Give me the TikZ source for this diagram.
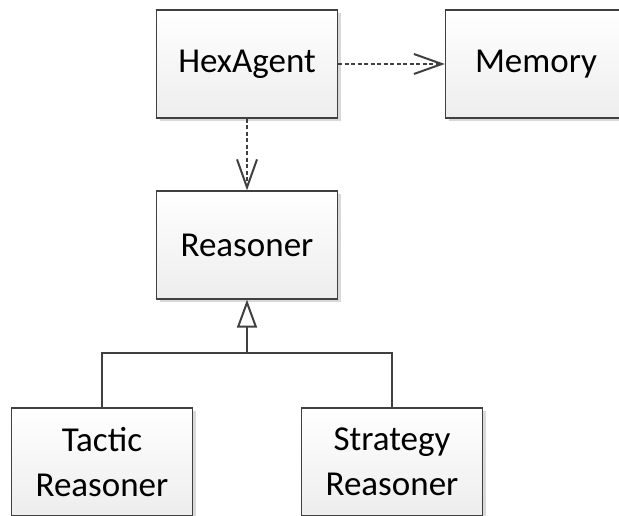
\documentclass[tikz,border=0pt]{standalone}
\usepackage{fontspec}
\setmainfont{Carlito}
\usetikzlibrary{arrows.meta,shadows}
\tikzset{
  cls/.style={draw=black!75,line width=1.3pt,top color=white,bottom color=black!7,
    minimum width=181pt,minimum height=108pt,align=center,
    font=\fontsize{35}{45}\selectfont,
    drop shadow={shadow xshift=3pt,shadow yshift=-3pt,fill=black!15,opacity=1}},
  dep/.style={draw=black!75,line width=2pt,dash pattern=on 4pt off 2.5pt,
    -{Straight Barb[length=28pt,width=20pt]}},
  inh/.style={draw=black!75,line width=2pt,-{Triangle[open,length=28pt,width=20pt]}},
}
\begin{document}
\begin{tikzpicture}[x=1pt,y=1pt]
	\useasboundingbox (0,0) rectangle (619,515);
	\clip (0,0) rectangle (619,515);
	% classes
	\node[cls] (hex) at (247,451) {HexAgent};
	\node[cls] (mem) at (536,451) {Memory};
	\node[cls] (rea) at (247,270) {Reasoner};
	\node[cls] (tac) at (102,53) {Tactic\\Reasoner};
	\node[cls] (str) at (392,53) {Strategy\\Reasoner};
	% dependencies
	\draw[dep] (hex) -- (mem);
	\draw[dep] (hex) -- (rea);
	% generalization
	\coordinate (bus) at (247,162);
	\draw[inh] (bus) -- (rea);
	\draw[line width=2pt,draw=black!75] (tac.north) |- (bus) -| (str.north);
\end{tikzpicture}
\end{document}
